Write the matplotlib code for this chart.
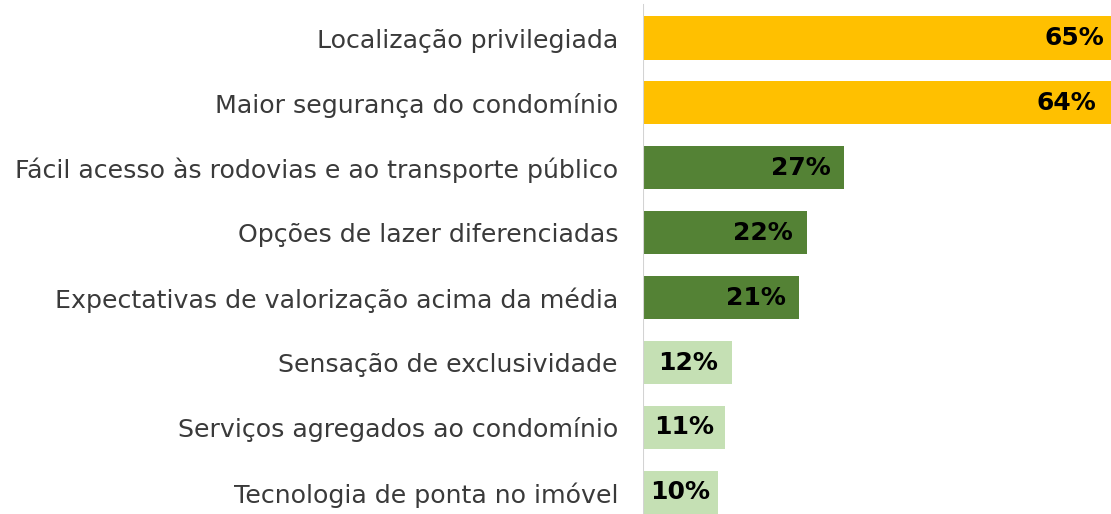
import matplotlib
matplotlib.use("Agg")
import matplotlib.pyplot as plt
from matplotlib.transforms import offset_copy

categories = [
    "Localização privilegiada",
    "Maior segurança do condomínio",
    "Fácil acesso às rodovias e ao transporte público",
    "Opções de lazer diferenciadas",
    "Expectativas de valorização acima da média",
    "Sensação de exclusividade",
    "Serviços agregados ao condomínio",
    "Tecnologia de ponta no imóvel",
]
values = [65, 64, 27, 22, 21, 12, 11, 10]
tiers = ["top", "top", "mid", "mid", "mid", "low", "low", "low"]

tier_colors = {"top": "#FFC000", "mid": "#548235", "low": "#C5E0B4"}

plt.rcParams["font.family"] = ["DejaVu Sans"]

fig = plt.figure(figsize=(11.11, 5.14), dpi=100)
ax = fig.add_axes([643 / 1111, 0, 1 - 643 / 1111, 1])

pos = list(range(len(categories)))
colors = [tier_colors[t] for t in tiers]
bars = ax.barh(pos, values, height=0.663, color=colors, edgecolor="none")

ax.set_xlim(0, 62.8)
ax.set_ylim(7.334, -0.5855)

ax.set_yticks(pos)
ax.set_yticklabels(categories, fontsize=18.2, color="#3A3A3A")
ax.tick_params(axis="y", length=0, pad=18.0)
ax.tick_params(axis="x", bottom=False, labelbottom=False)
for s in ax.spines.values():
    s.set_visible(False)
ax.axvline(0, ymin=0, ymax=0.99, color="#D3D3D3", lw=1.5)

for rect, v, t in zip(bars, values, tiers):
    y = rect.get_y() + rect.get_height() / 2
    label = f"{v}%"
    if t == "low":
        ax.text(v / 2, y, label, ha="center", va="center",
                fontsize=18, fontweight="bold", color="black")
    else:
        inset = -17 if t == "top" else -10
        tr = offset_copy(ax.transData, fig=fig, x=inset, y=0, units="points")
        ax.text(v, y, label, ha="right", va="center", transform=tr,
                fontsize=18, fontweight="bold", color="black")

fig.savefig("out.png", dpi=100)
